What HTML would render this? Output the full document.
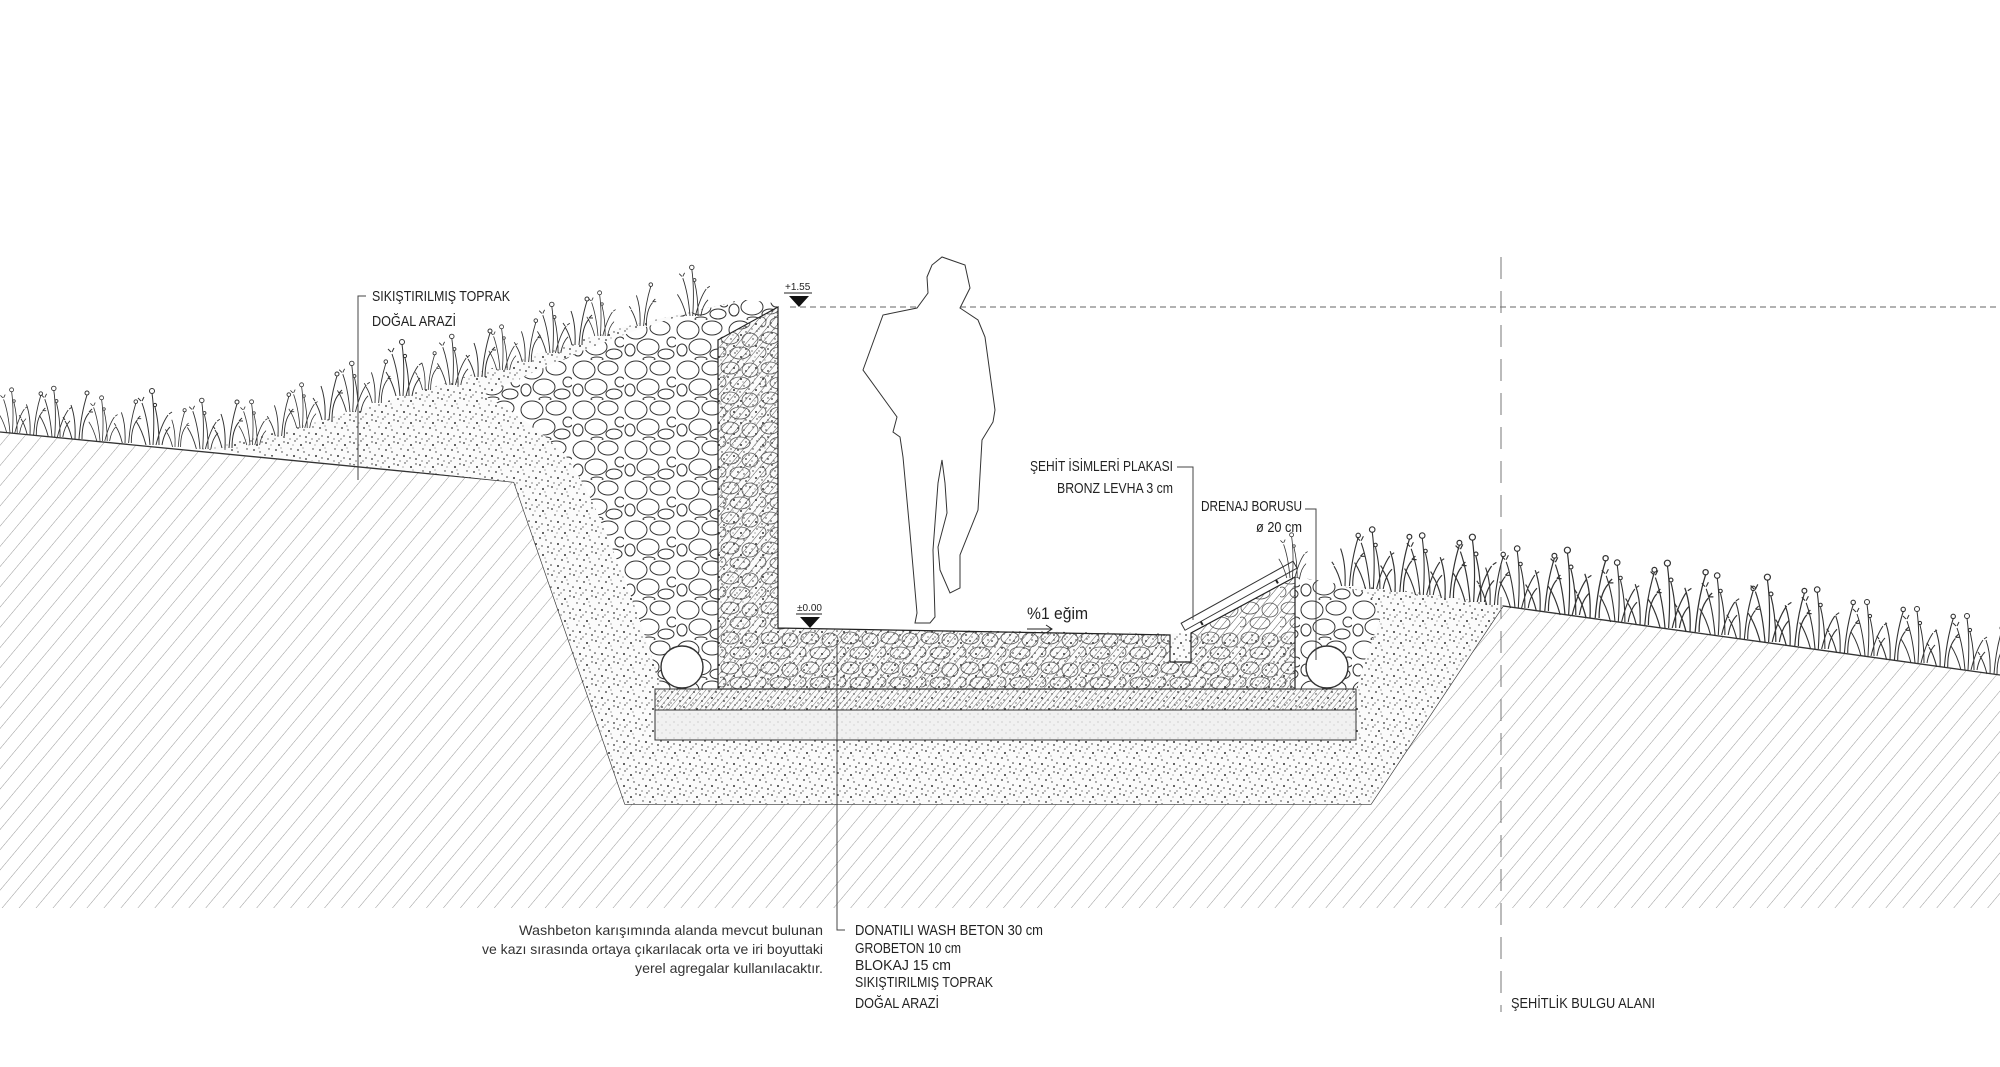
<!DOCTYPE html>
<html><head><meta charset="utf-8"><style>
html,body{margin:0;padding:0;background:#fff}
svg{display:block}
.lbl{font-family:"Liberation Sans Narrow","Liberation Sans",sans-serif;font-size:15px;fill:#222}
.note{font-family:"Liberation Sans",sans-serif;font-size:14px;fill:#333}
</style></head><body>
<svg width="2000" height="1067" viewBox="0 0 2000 1067" xmlns="http://www.w3.org/2000/svg">
<defs>
<pattern id="hatch" width="13" height="13" patternUnits="userSpaceOnUse" patternTransform="rotate(40)">
<line x1="0" y1="0" x2="0" y2="13" stroke="#999" stroke-width="1"/></pattern>
<pattern id="fh" width="6" height="6" patternUnits="userSpaceOnUse" patternTransform="rotate(40)">
<line x1="0" y1="0" x2="0" y2="6" stroke="#444" stroke-width="0.9"/></pattern>
<pattern id="sh" width="4" height="4" patternUnits="userSpaceOnUse" patternTransform="rotate(40)">
<line x1="0" y1="0" x2="0" y2="4" stroke="#555" stroke-width="0.8"/></pattern>
<pattern id="grav" width="22" height="22" patternUnits="userSpaceOnUse">
<rect width="22" height="22" fill="#fbfbfb"/>
<g fill="#333"><circle cx="2" cy="3" r="0.9"/><circle cx="9" cy="1" r="0.7"/><circle cx="15" cy="5" r="1"/><circle cx="20" cy="2" r="0.7"/><circle cx="5" cy="9" r="0.7"/><circle cx="12" cy="10" r="0.9"/><circle cx="18" cy="12" r="0.7"/><circle cx="1" cy="15" r="0.8"/><circle cx="8" cy="16" r="1"/><circle cx="14" cy="18" r="0.7"/><circle cx="20" cy="19" r="0.9"/><circle cx="4" cy="21" r="0.6"/><circle cx="11" cy="21" r="0.6"/><circle cx="17" cy="8" r="0.5"/><circle cx="7" cy="5" r="0.5"/></g></pattern>
<pattern id="blok" width="8" height="8" patternUnits="userSpaceOnUse">
<rect width="8" height="8" fill="#f1f1f1"/><circle cx="2" cy="2" r="0.5" fill="#999"/><circle cx="6" cy="5" r="0.5" fill="#aaa"/></pattern>
<pattern id="stone" width="52" height="40" patternUnits="userSpaceOnUse">
<rect width="52" height="40" fill="#fff"/>
<g fill="none" stroke="#333" stroke-width="1">
<ellipse cx="12" cy="10" rx="11" ry="9"/><ellipse cx="36" cy="8" rx="10" ry="7"/><ellipse cx="48" cy="22" rx="5" ry="5"/>
<ellipse cx="24" cy="27" rx="11" ry="8"/><ellipse cx="6" cy="30" rx="5" ry="6"/><ellipse cx="42" cy="34" rx="8" ry="5"/><ellipse cx="25" cy="39" rx="6" ry="2"/></g></pattern>
<pattern id="stoneS" width="40" height="30" patternUnits="userSpaceOnUse">
<g fill="none" stroke="#555" stroke-width="0.8">
<ellipse cx="10" cy="8" rx="9" ry="6"/><ellipse cx="30" cy="10" rx="8" ry="7"/><ellipse cx="20" cy="23" rx="10" ry="6"/><ellipse cx="2" cy="22" rx="4" ry="5"/></g></pattern>
<g id="t" fill="none" stroke="#333" stroke-width="1">
<path d="M0,0 Q-2,-25 -8,-42 M3,0 Q5,-30 2,-52 M6,0 Q11,-20 18,-30 M9,0 Q9,-22 5,-38 M-4,0 Q-8,-15 -14,-24 M12,0 Q14,-12 20,-18"/>
<circle cx="2" cy="-54" r="2.5"/><circle cx="5" cy="-40" r="1.6"/>
<path d="M-9,-44 l-3,-3 M-8,-44 l2,-4 M19,-31 l3,-2"/></g>
<g id="t2" fill="none" stroke="#333" stroke-width="1">
<path d="M0,0 Q1,-20 -4,-34 M4,0 Q6,-25 12,-44 M7,0 Q7,-18 14,-26 M-3,0 Q-6,-12 -10,-18"/>
<circle cx="12" cy="-46" r="2"/><path d="M14,-27 l3,-3 M14,-27 l4,0 M-10,-19 l-2,-3"/></g>
</defs>

<polygon points="0,432 514,482 625,804 1371,804 1503,606 2000,675 2000,908 0,908" fill="url(#hatch)"/>
<polyline points="0,432 514,482 625,804 1371,804 1503,606 2000,675" fill="none" stroke="#333" stroke-width="1.3"/>

<path d="M200,449 C330,425 480,370 620,328 L740,300 L778,307 L778,628 L1295,635 L1295,577 L1340,585 Q1420,590 1503,606 L1371,804 L625,804 L514,482 Z" fill="url(#grav)"/>

<path d="M483,395 C540,370 640,320 745,300 L770,302 L778,307 L718,340 L718,690 L662,690 C650,650 640,620 625,580 C605,530 590,490 565,455 C530,420 500,405 483,395 Z" fill="url(#stone)"/>
<path d="M1295,577 L1330,582 L1372,595 L1380,620 L1365,660 L1356,690 L1295,690 Z" fill="url(#stone)"/>

<path d="M718,340 L778,307 L778,628 L1170,635 L1170,662 L1191,662 L1191,633 L1295,577 L1295,689 L718,689 Z" fill="url(#fh)"/>
<path d="M718,340 L778,307 L778,628 L1170,635 L1170,662 L1191,662 L1191,633 L1295,577 L1295,689 L718,689 Z" fill="url(#stoneS)" stroke="#222" stroke-width="1.2"/>

<rect x="655" y="689" width="701" height="21" fill="url(#sh)" stroke="#333" stroke-width="1"/>
<rect x="655" y="710" width="701" height="30" fill="url(#blok)" stroke="#333" stroke-width="1"/>

<circle cx="682" cy="667" r="21" fill="#fff" stroke="#333" stroke-width="1.4"/>
<circle cx="1327" cy="667" r="21" fill="#fff" stroke="#333" stroke-width="1.4"/>

<g transform="translate(1186,632) rotate(-29)">
<rect x="0" y="-10" width="128" height="8" fill="#fff" stroke="#333" stroke-width="1"/>
<path d="M18,-2 v4 M104,-2 v4" stroke="#222" stroke-width="2"/></g>

<line x1="790" y1="307" x2="2000" y2="307" stroke="#666" stroke-width="1" stroke-dasharray="6 4"/>
<line x1="1501" y1="257" x2="1501" y2="1012" stroke="#777" stroke-width="1" stroke-dasharray="22 12"/>
<text x="785" y="290" style="font-family:'Liberation Sans Narrow','Liberation Sans',sans-serif;font-size:10px;fill:#222">+1.55</text>
<line x1="784" y1="293" x2="812" y2="293" stroke="#222"/>
<polygon points="789,296 809,296 799,307" fill="#111"/>
<text x="797" y="611" style="font-family:'Liberation Sans Narrow','Liberation Sans',sans-serif;font-size:10px;fill:#222">±0.00</text>
<line x1="796" y1="614" x2="822" y2="614" stroke="#222"/>
<polygon points="800,617 820,617 810,628" fill="#111"/>
<text x="1027" y="619" class="lbl" style="font-size:17px" textLength="61" lengthAdjust="spacingAndGlyphs">%1 eğim</text>
<path d="M1027,629 H1052 M1046,625 L1052,629 L1046,633" fill="none" stroke="#222"/>

<path d="M927,277 L932,265 L942,257 L965,265 L970,288 L960,308 L978,320 L985,337 L995,410 L993,422 L982,440 L978,510 L960,555 L960,588 L950,593 L940,570 L938,547 L947,513 L945,483 L942,460 L938,483 L933,550 L935,617 L930,623 L915,623 L917,613 L910,533 L903,457 L900,437 L893,432 L897,417 L863,370 L883,315 L917,308 L928,293 Z" fill="#fff" stroke="#333" stroke-width="1"/>

<g>
<use href="#t" transform="translate(10,433) scale(0.8)"/><use href="#t2" transform="translate(30,435) scale(0.9)"/>
<use href="#t" transform="translate(52,437) scale(0.9)"/><use href="#t2" transform="translate(75,439)"/>
<use href="#t" transform="translate(100,441) scale(0.8)"/><use href="#t2" transform="translate(125,443) scale(0.9)"/>
<use href="#t" transform="translate(150,445)"/><use href="#t2" transform="translate(175,447) scale(0.8)"/>
<use href="#t" transform="translate(200,449) scale(0.9)"/><use href="#t2" transform="translate(225,448)"/>
<use href="#t" transform="translate(250,445) scale(0.8)"/><use href="#t2" transform="translate(278,436) scale(0.9)"/>
<use href="#t" transform="translate(300,428) scale(0.8)"/><use href="#t2" transform="translate(325,420)"/>
<use href="#t" transform="translate(350,412) scale(0.9)"/><use href="#t2" transform="translate(375,403) scale(0.9)"/>
<use href="#t" transform="translate(400,396)"/><use href="#t2" transform="translate(425,390) scale(0.8)"/>
<use href="#t" transform="translate(450,385) scale(0.9)"/><use href="#t2" transform="translate(478,377)"/>
<use href="#t" transform="translate(500,370) scale(0.8)"/><use href="#t2" transform="translate(525,362) scale(0.9)"/>
<use href="#t" transform="translate(550,353) scale(0.9)"/><use href="#t2" transform="translate(575,345)"/>
<use href="#t" transform="translate(598,336) scale(0.8)"/><use href="#t2" transform="translate(640,326) scale(0.9)"/>
<use href="#t" transform="translate(690,316) scale(0.9)"/>
</g>
<g>
<use href="#t" transform="translate(1290,578) scale(0.8)"/>
<use href="#t2" transform="translate(1345,586) scale(1.1)"/><use href="#t" transform="translate(1370,589) scale(1.1)"/>
<use href="#t2" transform="translate(1395,592) scale(1.2)"/><use href="#t" transform="translate(1420,595) scale(1.1)"/>
<use href="#t2" transform="translate(1445,598) scale(1.2)"/><use href="#t" transform="translate(1470,602) scale(1.2)"/>
<use href="#t2" transform="translate(1490,605) scale(1.1)"/><use href="#t" transform="translate(1515,608) scale(1.1)"/>
<use href="#t2" transform="translate(1540,611) scale(1.2)"/><use href="#t" transform="translate(1565,615) scale(1.2)"/>
<use href="#t2" transform="translate(1590,618) scale(1.3)"/><use href="#t" transform="translate(1615,622) scale(1.1)"/>
<use href="#t2" transform="translate(1640,625) scale(1.2)"/><use href="#t" transform="translate(1665,628) scale(1.2)"/>
<use href="#t2" transform="translate(1690,632) scale(1.3)"/><use href="#t" transform="translate(1715,635) scale(1.1)"/>
<use href="#t2" transform="translate(1740,639) scale(1.1)"/><use href="#t" transform="translate(1765,642) scale(1.2)"/>
<use href="#t2" transform="translate(1790,646) scale(1.2)"/><use href="#t" transform="translate(1815,649) scale(1.1)"/>
<use href="#t2" transform="translate(1840,653) scale(1.1)"/><use href="#t" transform="translate(1865,656)"/>
<use href="#t2" transform="translate(1890,660) scale(1.1)"/><use href="#t" transform="translate(1915,663)"/>
<use href="#t2" transform="translate(1940,667) scale(1.1)"/><use href="#t" transform="translate(1965,670)"/>
<use href="#t2" transform="translate(1990,674)"/>
</g>

<path d="M366,296 H358 V480" fill="none" stroke="#444" stroke-width="1"/>
<text x="372" y="301" class="lbl" textLength="138" lengthAdjust="spacingAndGlyphs">SIKIŞTIRILMIŞ TOPRAK</text>
<text x="372" y="326" class="lbl" textLength="84" lengthAdjust="spacingAndGlyphs">DOĞAL ARAZİ</text>

<text x="1030" y="471" class="lbl" textLength="143" lengthAdjust="spacingAndGlyphs">ŞEHİT İSİMLERİ PLAKASI</text>
<text x="1057" y="493" class="lbl" textLength="116" lengthAdjust="spacingAndGlyphs">BRONZ LEVHA 3 cm</text>
<path d="M1177,467 H1193 V620" fill="none" stroke="#444" stroke-width="1"/>

<text x="1201" y="511" class="lbl" textLength="101" lengthAdjust="spacingAndGlyphs">DRENAJ BORUSU</text>
<text x="1256" y="532" class="lbl" textLength="46" lengthAdjust="spacingAndGlyphs">ø 20 cm</text>
<path d="M1305,509 H1316 V660" fill="none" stroke="#444" stroke-width="1"/>

<path d="M837,640 V930 H845" fill="none" stroke="#444" stroke-width="1"/>
<text x="855" y="935" class="lbl" textLength="188" lengthAdjust="spacingAndGlyphs">DONATILI WASH BETON 30 cm</text>
<text x="855" y="953" class="lbl" textLength="106" lengthAdjust="spacingAndGlyphs">GROBETON 10 cm</text>
<text x="855" y="970" class="lbl" textLength="96" lengthAdjust="spacingAndGlyphs">BLOKAJ 15 cm</text>
<text x="855" y="987" class="lbl" textLength="138" lengthAdjust="spacingAndGlyphs">SIKIŞTIRILMIŞ TOPRAK</text>
<text x="855" y="1008" class="lbl" textLength="84" lengthAdjust="spacingAndGlyphs">DOĞAL ARAZİ</text>

<text x="519" y="935" class="note" textLength="304" lengthAdjust="spacingAndGlyphs">Washbeton karışımında alanda mevcut bulunan</text>
<text x="482" y="954" class="note" textLength="341" lengthAdjust="spacingAndGlyphs">ve kazı sırasında ortaya çıkarılacak orta ve iri boyuttaki</text>
<text x="635" y="973" class="note" textLength="188" lengthAdjust="spacingAndGlyphs">yerel agregalar kullanılacaktır.</text>

<text x="1511" y="1008" class="lbl" textLength="144" lengthAdjust="spacingAndGlyphs">ŞEHİTLİK BULGU ALANI</text>
</svg>
</body></html>
